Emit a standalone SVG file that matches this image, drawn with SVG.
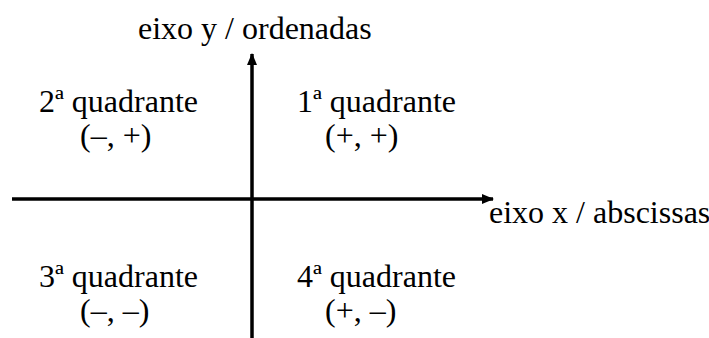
<svg xmlns="http://www.w3.org/2000/svg" width="709" height="338" viewBox="0 0 709 338">
<defs>
<style>
.t{font-family:'Liberation Serif','Times New Roman','DejaVu Serif',serif;font-size:32px;fill:#000}
.axis{stroke:#000;stroke-width:3.5;fill:none}
</style>
<marker id="ah" viewBox="0 0 12 10" refX="11" refY="5" markerWidth="12" markerHeight="10" markerUnits="userSpaceOnUse" orient="auto">
<path d="M0,0 L12,5 L0,10 Z" fill="#000"/>
</marker>
</defs>
<rect width="709" height="338" fill="#fff"/>
<g id="connectors">
<line class="axis" x1="252" y1="338" x2="252" y2="54" marker-end="url(#ah)"/>
<line class="axis" x1="12" y1="199" x2="493" y2="199" marker-end="url(#ah)"/>
</g>
<g class="t" font-family="Liberation Serif, serif">
<g id="label-y"><text x="138" y="39">eixo y / ordenadas</text></g>
<g id="label-x"><text x="489" y="223">eixo x / abscissas</text></g>
<g id="q2"><text x="39" y="112">2ª quadrante</text><text x="80" y="146">(–, +)</text></g>
<g id="q1"><text x="297" y="112">1ª quadrante</text><text x="325" y="146">(+, +)</text></g>
<g id="q3"><text x="39" y="287">3ª quadrante</text><text x="80" y="321">(–, –)</text></g>
<g id="q4"><text x="297" y="287">4ª quadrante</text><text x="325" y="321">(+, –)</text></g>
</g>
</svg>
